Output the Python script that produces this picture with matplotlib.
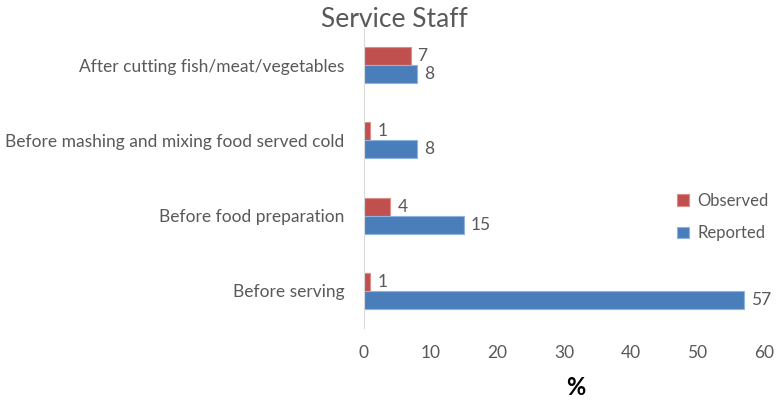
import numpy as np
import matplotlib
matplotlib.use('Agg')
import matplotlib.pyplot as plt

plt.rcParams['font.family'] = ['Lato', 'DejaVu Sans']

categories = ['After cutting fish/meat/vegetables',
              'Before mashing and mixing food served cold',
              'Before food preparation',
              'Before serving']
observed = [7, 1, 4, 1]
reported = [8, 8, 15, 57]

grey = '#595959'
red = '#C0504D'
blue = '#4A7EBB'

fig = plt.figure(figsize=(7.79, 4.05), dpi=100)
ax = fig.add_axes([0.467, 0.19, 0.514, 0.741])

y = np.arange(len(categories))[::-1]
h = 0.24
b1 = ax.barh(y + h / 2, observed, height=h, color=red, edgecolor='#E08C89', linewidth=0.8, label='Observed')
b2 = ax.barh(y - h / 2, reported, height=h, color=blue, edgecolor='#8FB3E0', linewidth=0.8, label='Reported')

for bars in (b1, b2):
    ax.bar_label(bars, padding=5, color=grey, fontsize=12.5)

ax.set_xlim(0, 60)
ax.set_ylim(-0.5, len(categories) - 0.5)
ax.set_xticks(range(0, 61, 10))
ax.set_yticks(y)
ax.set_yticklabels(categories)
ax.tick_params(axis='x', length=0, labelsize=12.5, colors=grey, pad=12)
ax.tick_params(axis='y', length=0, labelsize=12.5, colors=grey, pad=14)

for s in ['top', 'right', 'bottom']:
    ax.spines[s].set_visible(False)
ax.spines['left'].set_color('#D9D9D9')

ax.set_xlabel('%', fontsize=17, fontweight='bold', color='black', labelpad=14)
ax.xaxis.set_label_coords(0.53, -0.16)
fig.text(0.506, 0.952, 'Service Staff', ha='center', va='center', fontsize=19, color=grey)

legend = ax.legend(loc='center left', bbox_to_anchor=(0.745, 0.37), frameon=False,
                   fontsize=12, handlelength=0.7, handleheight=0.7, labelspacing=1.0,
                   handletextpad=0.5)
for t in legend.get_texts():
    t.set_color(grey)

plt.savefig('out.png', dpi=100)
